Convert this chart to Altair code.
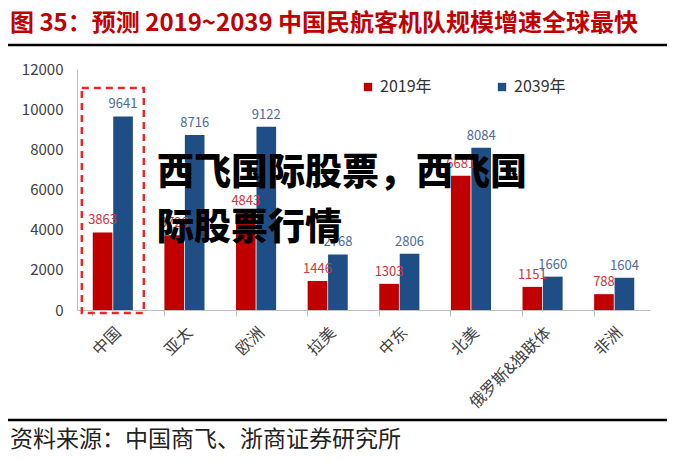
import altair as alt
import pandas as pd

regions = ["中国", "亚太", "欧洲", "拉美", "中东", "北美", "俄罗斯&独联体", "非洲"]
v2019 = [3863, 3720, 4843, 1446, 1303, 6681, 1151, 788]
v2039 = [9641, 8716, 9122, 2768, 2806, 8084, 1660, 1604]
series = ["2019年", "2039年"]
bar_colors = ["#C00000", "#1F4E86"]
label_colors = ["#D0363A", "#4F6A98"]

title_text = "图 35：预测 2019~2039 中国民航客机队规模增速全球最快"
source_text = "资料来源：中国商飞、浙商证券研究所"
watermark = ["西飞国际股票，西飞国", "际股票行情"]

rows = []
for i, r in enumerate(regions):
    rows.append({"region": r, "series": series[0], "value": v2019[i], "lc": label_colors[0]})
    rows.append({"region": r, "series": series[1], "value": v2039[i], "lc": label_colors[1]})
df = pd.DataFrame(rows)

FONT = "Noto Sans CJK SC"
W, H = 573, 241

xscale = alt.Scale(domain=regions, paddingInner=0.44, paddingOuter=0.22)
yscale = alt.Scale(domain=[0, 12000])

x = alt.X("region:N", scale=xscale, sort=regions, title=None,
          axis=alt.Axis(labelAngle=-45, labelFontSize=16, labelColor="#404040",
                        labelFont=FONT, domainColor="#BFBFBF", tickColor="#BFBFBF",
                        tickSize=6, bandPosition=0, labelPadding=8))
y = alt.Y("value:Q", scale=yscale, title=None,
          axis=alt.Axis(values=[0, 2000, 4000, 6000, 8000, 10000, 12000], grid=False,
                        format="d", ticks=False, labelFontSize=15, labelColor="#404040",
                        labelFont=FONT, domainColor="#BFBFBF", labelPadding=14))

bars = alt.Chart(df).mark_bar().encode(
    x=x,
    xOffset=alt.XOffset("series:N", scale=alt.Scale(domain=series, paddingInner=0.04)),
    y=y,
    color=alt.Color("series:N", scale=alt.Scale(domain=series, range=bar_colors),
                    legend=alt.Legend(title=None, orient="none", legendX=283, legendY=10,
                                      direction="horizontal", symbolType="square",
                                      symbolSize=70, labelFontSize=16, labelFont=FONT,
                                      labelColor="#333333", columnPadding=62,
                                      symbolStrokeWidth=0)),
)

labels = alt.Chart(df).mark_text(baseline="bottom", dy=-5, fontSize=13, font=FONT).encode(
    x=alt.X("region:N", scale=xscale, sort=regions),
    xOffset=alt.XOffset("series:N", scale=alt.Scale(domain=series, paddingInner=0.04)),
    y=alt.Y("value:Q", scale=yscale),
    text=alt.Text("value:Q", format="d"),
    color=alt.Color("lc:N", scale=None),
)

box_df = pd.DataFrame({"region": [regions[0]], "top": [11050], "bottom": [-150]})
box = alt.Chart(box_df).mark_bar(width=62, filled=False, stroke="#E8282B",
                                 strokeDash=[7, 5], strokeWidth=2.5).encode(
    x=alt.X("region:N", scale=xscale, sort=regions),
    y=alt.Y("top:Q", scale=yscale),
    y2="bottom:Q",
)

title = alt.Chart(pd.DataFrame({"t": [title_text]})).mark_text(
    align="left", baseline="middle", fontSize=24, fontWeight="bold", font=FONT,
    color="#C00000").encode(x=alt.value(-67), y=alt.value(-45), text="t:N")

top_rule = alt.Chart(pd.DataFrame({"a": [0]})).mark_rule(color="black", strokeWidth=2.5).encode(
    x=alt.value(-69), x2=alt.value(593), y=alt.value(-24))
bottom_rule = alt.Chart(pd.DataFrame({"a": [0]})).mark_rule(color="black", strokeWidth=2.5).encode(
    x=alt.value(-69), x2=alt.value(593), y=alt.value(351))

source = alt.Chart(pd.DataFrame({"t": [source_text]})).mark_text(
    align="left", baseline="middle", fontSize=23, font=FONT, color="#222222").encode(
    x=alt.value(-67), y=alt.value(371), text="t:N")

wm1 = alt.Chart(pd.DataFrame({"t": [watermark[0]]})).mark_text(
    align="left", baseline="middle", fontSize=37, fontWeight=900, font=FONT,
    color="#000000").encode(x=alt.value(80), y=alt.value(105), text="t:N")
wm2 = alt.Chart(pd.DataFrame({"t": [watermark[1]]})).mark_text(
    align="left", baseline="middle", fontSize=37, fontWeight=900, font=FONT,
    color="#000000").encode(x=alt.value(80), y=alt.value(160), text="t:N")

chart = alt.layer(bars, labels, box, title, top_rule, bottom_rule, source, wm1, wm2).properties(
    width=W, height=H,
    autosize=alt.AutoSizeParams(type="none"),
    padding={"left": 69, "top": 61, "right": 17, "bottom": 143},
    background="white",
).configure_view(stroke=None)

chart.save("out.html", embed_options={"renderer": "svg", "actions": False})
